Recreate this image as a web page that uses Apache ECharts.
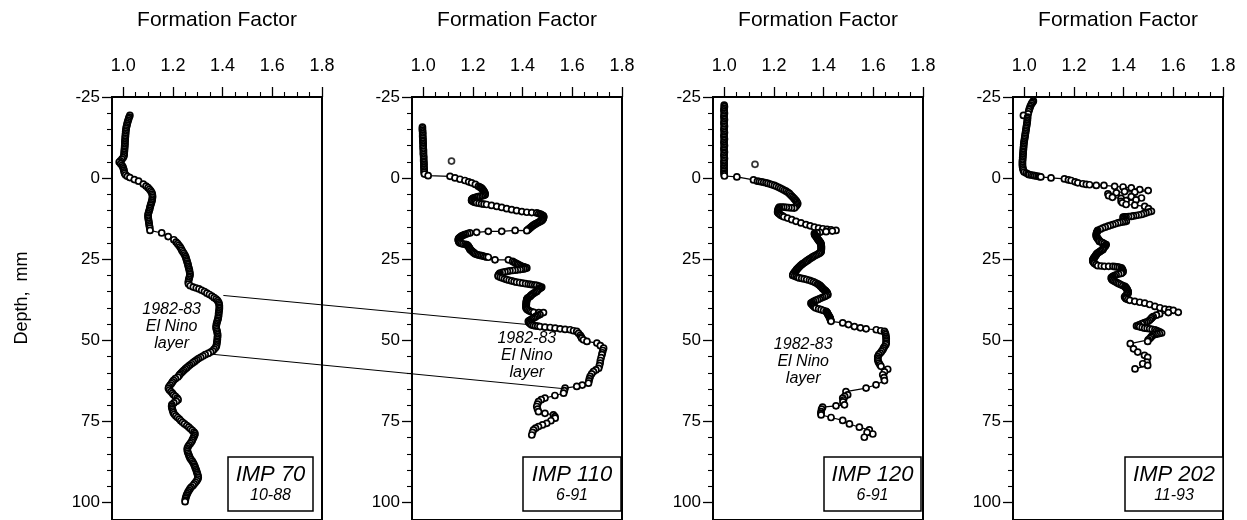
<!DOCTYPE html>
<html>
<head>
<meta charset="utf-8">
<script src="https://cdn.jsdelivr.net/npm/echarts@6/dist/echarts.min.js"></script>
<style>
  html, body { margin: 0; padding: 0; background: #fff; }
  #chart { width: 1247px; height: 520px; }
</style>
</head>
<body>
<div id="chart"></div>
<script>
// Formation factor profiles of four sediment cores: [formation factor, depth in mm]
const coreNames = ['IMP 70', 'IMP 110', 'IMP 120', 'IMP 202'];
const coreDates = ['10-88', '6-91', '6-91', '11-93'];
const axisTitle = 'Formation Factor';
const depthTitle = 'Depth,  mm';
const layerText = '1982-83\nEl Nino\nlayer';

const imp70 = [
  [1.027,-19.3],[1.024,-18.8],[1.022,-18.3],[1.020,-17.8],[1.018,-17.3],[1.016,-16.8],[1.015,-16.3],[1.013,-15.8],
  [1.012,-15.3],[1.011,-14.8],[1.010,-14.3],[1.010,-13.8],[1.009,-13.3],[1.009,-12.8],[1.008,-12.3],[1.008,-11.8],
  [1.007,-11.3],[1.007,-10.8],[1.007,-10.3],[1.006,-9.8],[1.006,-9.3],[1.005,-8.8],[1.005,-8.3],[1.004,-7.8],
  [1.004,-7.3],[1.003,-6.8],[1.000,-6.3],[0.995,-5.8],[0.989,-5.3],[0.984,-4.9],[0.990,-4.4],[0.995,-3.9],
  [0.999,-3.4],[1.001,-2.9],[1.003,-2.4],[1.004,-1.9],[1.006,-1.4],[1.010,-0.9],[1.017,-0.5],[1.027,-0.1],
  [1.045,0.5],[1.062,1.0],[1.081,1.9],
  [1.092,2.5],[1.100,3.0],[1.106,3.5],[1.111,4.0],[1.115,4.5],[1.117,5.0],[1.118,5.5],[1.118,6.0],[1.117,6.5],
  [1.116,7.0],[1.114,7.5],[1.112,8.0],[1.110,8.5],[1.108,9.0],[1.107,9.5],[1.105,10.0],[1.103,10.5],[1.101,11.0],
  [1.100,11.5],[1.100,12.0],[1.101,12.5],[1.102,13.0],[1.103,13.5],[1.104,14.0],[1.105,14.5],[1.106,15.0],
  [1.107,15.5],[1.108,16.2],
  [1.155,17.0],[1.181,18.1],[1.204,19.1],
  [1.213,19.8],[1.219,20.3],[1.224,20.8],[1.229,21.3],[1.233,21.8],[1.236,22.3],[1.240,22.8],[1.244,23.3],
  [1.248,23.8],[1.251,24.3],[1.253,24.8],[1.255,25.3],[1.257,25.8],[1.259,26.3],[1.261,26.8],[1.262,27.3],
  [1.264,27.8],[1.266,28.3],[1.267,28.8],[1.268,29.3],[1.269,29.8],[1.268,30.3],[1.266,30.8],[1.264,31.3],
  [1.263,31.8],[1.262,32.3],[1.263,32.8],[1.270,33.3],
  [1.282,33.7],[1.294,34.0],[1.305,34.3],[1.316,34.7],[1.327,35.1],[1.337,35.6],[1.347,36.0],[1.357,36.5],
  [1.366,37.0],[1.374,37.4],[1.380,37.9],[1.384,38.4],[1.386,38.9],[1.387,39.4],[1.387,39.9],[1.387,40.4],
  [1.386,40.9],[1.385,41.4],[1.384,41.9],[1.384,42.4],[1.383,42.9],[1.382,43.4],[1.380,43.9],[1.378,44.4],
  [1.376,44.9],[1.375,45.4],[1.374,45.9],[1.374,46.4],[1.376,46.9],[1.378,47.4],[1.379,47.9],[1.380,48.4],
  [1.380,48.9],[1.379,49.4],[1.379,49.9],[1.378,50.4],[1.377,50.9],[1.376,51.4],[1.375,51.9],[1.372,52.4],
  [1.366,52.9],[1.360,53.4],[1.352,53.8],[1.342,54.2],[1.330,54.6],[1.321,55.0],[1.312,55.4],[1.303,55.8],
  [1.296,56.2],[1.289,56.6],[1.282,57.0],[1.275,57.4],[1.268,57.8],[1.262,58.2],[1.256,58.6],[1.250,59.0],
  [1.244,59.4],[1.239,59.8],[1.234,60.2],[1.229,60.6],[1.225,61.0],[1.220,61.5],[1.210,62.0],[1.203,62.5],
  [1.198,63.0],[1.194,63.5],[1.189,64.0],[1.184,64.5],[1.182,65.0],[1.186,65.5],[1.192,66.0],[1.198,66.5],
  [1.203,67.0],[1.210,67.5],[1.217,68.0],[1.221,68.5],[1.214,69.0],[1.204,69.5],[1.196,70.0],[1.195,70.5],
  [1.196,71.0],[1.198,71.5],[1.200,72.0],[1.202,72.5],[1.206,73.0],[1.212,73.5],[1.219,74.0],[1.226,74.5],
  [1.232,75.0],[1.239,75.5],[1.247,76.0],[1.256,76.5],[1.264,77.0],[1.271,77.5],[1.278,78.0],[1.285,78.5],
  [1.289,79.0],[1.287,79.5],[1.284,80.0],[1.281,80.5],[1.278,81.0],[1.275,81.5],[1.270,82.0],[1.265,82.5],
  [1.261,83.0],[1.258,83.5],[1.258,84.0],[1.259,84.5],[1.261,85.0],[1.264,85.5],[1.266,86.0],[1.269,86.5],
  [1.273,87.0],[1.278,87.5],[1.282,88.0],[1.285,88.5],[1.288,89.0],[1.290,89.5],[1.293,90.0],[1.295,90.5],
  [1.297,91.0],[1.299,91.5],[1.301,92.0],[1.302,92.5],[1.300,93.0],[1.296,93.5],[1.291,94.0],[1.286,94.5],
  [1.281,95.0],[1.274,95.5],[1.269,96.0],[1.265,96.5],[1.261,97.0],[1.258,97.5],[1.255,98.0],[1.253,98.5],
  [1.251,99.0],[1.250,99.5],[1.249,100.0]
];

const imp110 = [
  [0.997,-15.7],[0.997,-15.2],[0.997,-14.7],[0.998,-14.2],[0.998,-13.7],[0.998,-13.2],[0.998,-12.7],[0.999,-12.2],
  [0.999,-11.7],[0.999,-11.2],[1.000,-10.7],[1.000,-10.2],[1.000,-9.7],[1.000,-9.2],[1.001,-8.7],[1.001,-8.2],
  [1.001,-7.7],[1.001,-7.2],[1.002,-6.7],[1.002,-6.2],[1.002,-5.7],[1.002,-5.2],[1.003,-4.7],[1.003,-4.2],
  [1.003,-3.7],[1.003,-3.2],[1.004,-2.7],[1.004,-2.2],[1.004,-1.7],[1.005,-1.2],
  [1.020,-0.7],[1.108,-0.5],
  [1.128,0.0],[1.148,0.4],[1.168,0.8],[1.183,1.2],[1.195,1.5],[1.210,2.0],[1.222,2.6],[1.228,2.8],[1.232,3.0],
  [1.236,3.25],[1.239,3.5],[1.242,3.8],[1.244,4.1],[1.246,4.35],[1.248,4.6],[1.249,4.9],[1.249,5.2],
  [1.245,5.35],[1.240,5.5],[1.234,5.6],[1.228,5.7],[1.221,5.8],[1.215,5.9],[1.208,6.05],[1.202,6.2],[1.199,6.4],
  [1.196,6.6],[1.195,6.8],[1.195,7.0],[1.199,7.2],[1.204,7.4],[1.209,7.55],[1.215,7.7],[1.225,7.85],[1.235,8.0],
  [1.245,8.1],[1.255,8.2],
  [1.275,8.5],[1.296,8.8],[1.316,9.1],[1.336,9.5],[1.356,9.8],[1.376,10.1],[1.397,10.4],[1.417,10.6],
  [1.437,10.7],[1.457,10.8],[1.465,11.0],
  [1.472,11.2],[1.477,11.4],[1.482,11.6],[1.484,11.8],[1.485,12.0],[1.484,12.25],[1.483,12.5],[1.481,12.75],
  [1.479,13.0],[1.476,13.2],[1.472,13.4],[1.467,13.6],[1.462,13.8],[1.457,14.0],[1.452,14.2],[1.448,14.4],
  [1.444,14.6],[1.440,14.8],[1.437,15.0],[1.433,15.25],[1.430,15.5],[1.426,15.7],[1.423,15.9],[1.420,16.1],
  [1.417,16.3],
  [1.370,16.2],[1.316,16.5],[1.262,16.5],[1.215,16.8],
  [1.188,17.0],[1.179,17.2],[1.170,17.4],[1.164,17.6],[1.158,17.8],[1.154,18.0],[1.150,18.2],[1.147,18.4],
  [1.144,18.6],[1.142,18.85],[1.141,19.1],[1.142,19.35],[1.143,19.6],[1.145,19.85],[1.148,20.1],[1.154,20.25],
  [1.160,20.4],[1.168,20.5],[1.175,20.6],[1.178,20.8],[1.181,21.0],[1.183,21.25],[1.185,21.5],[1.187,21.75],
  [1.188,22.0],[1.191,22.25],[1.195,22.5],[1.198,22.75],[1.202,23.0],[1.206,23.25],[1.210,23.5],[1.216,23.65],
  [1.222,23.8],[1.228,23.9],[1.235,24.0],[1.241,24.15],[1.248,24.3],[1.255,24.4],[1.262,24.5],
  [1.289,25.3],[1.343,25.3],
  [1.360,25.8],[1.366,26.05],[1.372,26.3],[1.378,26.55],[1.383,26.8],[1.389,27.0],[1.395,27.2],[1.400,27.35],
  [1.405,27.5],[1.411,27.65],[1.417,27.8],[1.411,27.95],[1.405,28.1],[1.397,28.2],[1.390,28.3],[1.380,28.4],
  [1.370,28.5],[1.360,28.6],[1.349,28.7],[1.339,28.85],[1.329,29.0],[1.319,29.2],[1.309,29.4],[1.306,29.65],
  [1.303,29.9],[1.302,30.15],[1.302,30.4],[1.310,30.65],[1.318,30.9],[1.327,31.15],[1.336,31.4],[1.346,31.6],
  [1.356,31.8],[1.366,32.0],[1.376,32.2],[1.388,32.35],[1.400,32.5],[1.412,32.65],[1.423,32.8],[1.432,32.9],
  [1.440,33.0],[1.449,33.1],[1.457,33.2],[1.467,33.45],[1.477,33.7],[1.474,33.9],[1.470,34.1],[1.465,34.35],
  [1.460,34.6],[1.458,34.85],[1.457,35.1],[1.451,35.35],[1.445,35.6],[1.440,35.85],[1.436,36.1],[1.433,36.35],
  [1.430,36.6],[1.425,36.85],[1.420,37.1],[1.418,37.35],[1.417,37.6],[1.416,37.85],[1.416,38.1],[1.415,38.35],
  [1.415,38.6],[1.415,38.85],[1.415,39.1],[1.414,39.35],[1.414,39.6],[1.414,39.9],[1.414,40.2],[1.417,40.45],
  [1.420,40.7],[1.425,40.95],[1.430,41.2],[1.437,41.35],[1.445,41.5],[1.465,41.6],[1.484,41.6],[1.470,42.2],
  [1.462,42.45],[1.455,42.7],[1.450,43.0],[1.444,43.3],[1.438,43.55],[1.432,43.8],[1.427,44.05],[1.423,44.3],
  [1.425,44.55],[1.428,44.8],[1.432,45.1],[1.437,45.4],[1.444,45.55],[1.452,45.7],[1.461,45.8],[1.470,45.9],
  [1.490,46.1],[1.511,46.2],[1.531,46.4],[1.551,46.6],[1.571,46.8],[1.591,46.9],
  [1.605,47.2],[1.618,47.4],[1.625,48.0],[1.632,48.6],[1.636,49.1],[1.638,49.5],[1.645,50.0],[1.659,50.5],
  [1.699,51.0],[1.713,51.8],[1.726,52.6],[1.723,53.3],[1.721,54.0],[1.719,54.6],[1.716,55.5],[1.713,56.4],
  [1.712,57.2],[1.709,58.0],[1.706,58.8],[1.695,59.3],[1.685,59.8],[1.678,60.5],[1.672,61.3],[1.669,62.0],
  [1.667,62.7],[1.665,63.4],[1.640,64.0],[1.618,64.4],[1.571,64.9],[1.568,65.7],[1.565,66.5],[1.530,67.2],
  [1.490,68.0],[1.475,68.5],[1.464,69.1],[1.460,69.9],[1.457,70.6],[1.460,71.4],[1.464,72.2],[1.490,72.7],
  [1.524,73.2],[1.530,73.7],[1.531,74.2],[1.514,75.0],[1.497,75.8],[1.480,76.3],[1.464,76.8],[1.452,77.3],
  [1.444,77.8],[1.440,78.6],[1.437,79.4]
];
const imp110Stray = [[1.114,-5.2]];

const imp120 = [
  [1.000,-22.5],[1.001,-22.0],[1.000,-21.5],[0.999,-21.0],[1.000,-20.5],[1.001,-20.0],[1.000,-19.5],[0.999,-19.0],
  [1.000,-18.5],[1.001,-18.0],[1.000,-17.5],[0.999,-17.0],[1.000,-16.5],[1.001,-16.0],[1.000,-15.5],[0.999,-15.0],
  [1.000,-14.5],[1.001,-14.0],[1.000,-13.5],[0.999,-13.0],[1.000,-12.5],[1.001,-12.0],[1.000,-11.5],[0.999,-11.0],
  [1.000,-10.5],[1.001,-10.0],[1.000,-9.5],[0.999,-9.0],[1.000,-8.5],[1.001,-8.0],[1.000,-7.5],[0.999,-7.0],
  [1.000,-6.5],[1.001,-6.0],[1.000,-5.5],[0.999,-5.0],[1.000,-4.5],[1.000,-4.0],[0.999,-3.5],[1.000,-3.0],
  [1.000,-2.5],[0.999,-2.0],[1.000,-1.5],[1.000,-1.0],[1.001,-0.6],
  [1.051,-0.3],[1.118,0.6],
  [1.134,1.0],[1.142,1.1],[1.150,1.2],[1.159,1.35],[1.168,1.5],[1.176,1.7],[1.185,1.9],[1.193,2.1],[1.202,2.3],
  [1.210,2.6],[1.219,2.9],[1.227,3.2],[1.235,3.5],[1.242,3.8],[1.249,4.1],[1.256,4.45],[1.262,4.8],[1.267,5.2],
  [1.272,5.6],[1.277,6.0],[1.282,6.4],[1.286,6.75],[1.290,7.1],[1.293,7.5],[1.296,7.9],[1.293,8.25],[1.290,8.6],
  [1.286,8.95],[1.282,9.3],[1.271,9.25],[1.260,9.2],[1.250,9.1],[1.240,9.0],[1.231,9.0],[1.222,9.0],[1.219,9.35],
  [1.217,9.7],[1.216,10.1],[1.215,10.5],[1.217,10.75],[1.220,11.0],[1.224,11.25],[1.228,11.5],[1.234,11.75],
  [1.240,12.0],[1.255,12.4],[1.272,12.9],[1.289,13.4],
  [1.309,13.9],[1.329,14.4],[1.346,14.8],[1.363,15.2],[1.380,15.5],[1.397,15.7],[1.414,15.9],[1.430,16.0],
  [1.450,16.2],[1.435,16.4],[1.410,16.6],
  [1.385,16.8],[1.374,17.0],[1.363,17.2],[1.364,17.45],[1.366,17.7],[1.369,18.0],[1.372,18.3],[1.374,18.55],
  [1.376,18.8],[1.378,19.05],[1.381,19.3],[1.383,19.55],[1.386,19.8],[1.388,20.05],[1.389,20.3],[1.390,20.55],
  [1.390,20.8],[1.391,21.05],[1.391,21.3],[1.391,21.55],[1.391,21.8],[1.391,22.1],[1.390,22.4],[1.390,22.65],
  [1.389,22.9],[1.385,23.15],[1.380,23.4],[1.374,23.65],[1.368,23.9],[1.362,24.15],[1.356,24.4],[1.351,24.65],
  [1.346,24.9],[1.341,25.15],[1.337,25.4],[1.332,25.65],[1.327,25.9],[1.322,26.2],[1.316,26.5],[1.312,26.75],
  [1.308,27.0],[1.304,27.3],[1.300,27.6],[1.297,27.85],[1.294,28.1],[1.291,28.35],[1.289,28.6],[1.286,28.85],
  [1.284,29.1],[1.281,29.35],[1.279,29.6],[1.277,29.85],[1.276,30.1],[1.283,30.3],[1.290,30.5],[1.296,30.7],
  [1.302,30.9],[1.312,31.05],[1.322,31.2],[1.332,31.4],[1.343,31.6],[1.351,31.85],[1.360,32.1],[1.368,32.4],
  [1.376,32.7],[1.380,32.95],[1.385,33.2],[1.388,33.45],[1.392,33.7],[1.394,33.95],[1.397,34.2],[1.401,34.45],
  [1.405,34.7],[1.408,34.9],[1.410,35.1],[1.413,35.35],[1.415,35.6],[1.416,35.85],[1.417,36.1],[1.411,36.35],
  [1.405,36.6],[1.397,36.85],[1.390,37.1],[1.383,37.35],[1.376,37.6],[1.368,37.85],[1.360,38.1],[1.354,38.4],
  [1.349,38.7],[1.352,38.95],[1.355,39.2],[1.358,39.45],[1.362,39.7],[1.365,39.95],[1.369,40.2],[1.380,40.45],
  [1.390,40.7],[1.400,40.95],[1.410,41.2],[1.413,41.45],[1.415,41.7],[1.417,42.0],[1.419,42.3],[1.421,42.55],
  [1.423,42.8],[1.425,43.05],[1.426,43.3],[1.427,43.55],[1.428,43.8],[1.429,44.05],[1.430,44.3],
  [1.477,44.8],[1.500,45.3],[1.524,45.9],[1.548,46.3],[1.571,46.6],[1.612,46.9],
  [1.630,47.2],[1.645,47.4],[1.648,47.9],[1.650,48.4],[1.651,49.0],[1.652,49.5],[1.652,50.0],[1.652,50.5],
  [1.652,51.0],[1.650,51.5],[1.645,52.1],[1.641,52.6],[1.638,53.1],[1.633,53.6],[1.628,54.1],[1.622,54.6],
  [1.618,55.2],[1.618,55.7],[1.618,56.2],[1.620,56.7],[1.623,57.2],[1.627,57.7],[1.631,58.2],[1.658,59.1],
  [1.645,59.9],[1.638,60.8],[1.643,61.7],[1.645,62.6],[1.611,63.9],[1.571,64.9],[1.490,66.0],[1.497,67.0],
  [1.485,67.5],[1.477,68.0],[1.480,68.6],[1.478,69.2],[1.484,70.1],[1.450,70.4],[1.396,70.8],[1.392,71.4],
  [1.390,72.2],[1.389,72.7],[1.390,73.2],[1.430,74.0],[1.477,74.9],[1.504,76.0],[1.544,77.0],[1.584,77.8],
  [1.598,79.1],[1.575,78.6],[1.564,80.1]
];
const imp120Stray = [[1.124,-4.2]];

const imp202 = [
  [1.037,-23.8],[1.034,-23.4],[1.030,-23.0],[1.027,-22.5],[1.024,-22.0],[1.022,-21.5],[1.020,-21.1],[1.018,-20.5],
  [1.016,-19.8],[0.997,-19.3],[1.014,-18.8],[1.013,-18.3],[1.013,-17.8],[1.012,-17.3],[1.011,-16.8],[1.010,-16.3],
  [1.009,-15.8],[1.008,-15.3],[1.007,-14.8],[1.006,-14.3],[1.005,-13.8],[1.004,-13.3],[1.003,-12.8],[1.002,-12.3],
  [1.001,-11.8],[1.000,-11.3],[0.999,-10.8],[0.998,-10.3],[0.998,-9.8],[0.997,-9.3],[0.997,-8.8],[0.996,-8.3],
  [0.996,-7.8],[0.995,-7.3],[0.995,-6.8],[0.994,-6.3],[0.994,-5.8],[0.993,-5.3],[0.993,-4.8],[0.993,-4.3],
  [0.993,-3.8],[0.994,-3.3],[0.995,-2.8],[0.997,-2.3],[1.000,-1.8],[1.008,-1.5],[1.015,-1.2],[1.020,-1.0],
  [1.028,-0.9],[1.035,-0.8],[1.042,-0.7],[1.049,-0.6],[1.056,-0.5],[1.062,-0.4],[1.067,-0.3],
  [1.108,0.0],[1.162,0.3],[1.178,0.6],[1.189,0.8],[1.205,1.2],[1.216,1.5],[1.236,1.8],[1.250,2.0],[1.263,2.1],
  [1.290,2.3],[1.321,2.3],[1.364,2.6],[1.398,2.8],[1.431,3.1],[1.465,3.6],[1.499,3.9],
  [1.445,4.4],[1.404,4.2],[1.371,4.6],[1.337,4.9],[1.340,5.5],[1.355,6.0],[1.390,6.3],[1.431,5.8],[1.472,6.2],
  [1.450,6.8],[1.410,7.0],[1.390,7.2],[1.395,7.7],[1.410,8.2],[1.445,8.4],[1.485,8.8],[1.500,9.5],
  [1.512,10.3],[1.501,10.55],[1.490,10.8],[1.481,11.05],[1.472,11.3],[1.461,11.45],[1.450,11.6],[1.440,11.75],
  [1.431,11.9],[1.420,11.95],[1.410,12.0],[1.404,12.05],[1.398,12.1],[1.399,12.45],[1.400,12.8],[1.405,13.1],
  [1.411,13.4],[1.403,13.5],[1.395,13.6],[1.386,13.75],[1.377,13.9],[1.367,14.15],[1.357,14.4],[1.347,14.65],
  [1.337,14.9],[1.326,15.2],[1.316,15.5],[1.306,15.85],[1.296,16.2],[1.294,16.5],[1.292,16.8],[1.291,17.1],
  [1.290,17.4],[1.290,17.7],[1.290,18.0],[1.292,18.3],[1.295,18.6],[1.297,18.85],[1.300,19.1],[1.302,19.35],
  [1.303,19.6],[1.309,19.8],[1.315,20.0],[1.322,20.3],[1.330,20.6],[1.327,20.9],[1.325,21.2],[1.321,21.45],
  [1.318,21.7],[1.317,21.95],[1.316,22.2],[1.310,22.45],[1.305,22.7],[1.300,22.95],[1.295,23.2],[1.292,23.45],
  [1.290,23.7],[1.287,24.0],[1.285,24.3],[1.282,24.55],[1.280,24.8],[1.278,25.05],[1.276,25.3],[1.276,25.55],
  [1.277,25.8],[1.280,26.1],[1.283,26.4],[1.289,26.75],[1.296,27.1],[1.310,27.2],[1.323,27.3],[1.340,27.3],
  [1.357,27.3],[1.366,27.4],[1.375,27.5],[1.383,27.65],[1.391,27.8],[1.394,28.1],[1.396,28.4],[1.397,28.7],
  [1.398,29.0],[1.394,29.25],[1.390,29.5],[1.380,29.7],[1.370,29.9],[1.363,30.15],[1.357,30.4],[1.353,30.65],
  [1.350,30.9],[1.352,31.2],[1.355,31.5],[1.360,31.75],[1.365,32.0],[1.371,32.25],[1.377,32.5],[1.383,32.75],
  [1.390,33.0],[1.397,33.25],[1.405,33.5],[1.408,33.75],[1.411,34.0],[1.413,34.3],[1.415,34.6],[1.417,34.85],
  [1.418,35.1],[1.418,35.35],[1.418,35.6],[1.415,35.85],[1.412,36.1],[1.408,36.4],[1.404,36.7],[1.407,37.0],
  [1.410,37.3],[1.417,37.55],[1.425,37.8],
  [1.445,38.1],[1.465,38.4],[1.485,38.7],[1.505,39.1],[1.526,39.7],[1.546,40.1],[1.566,40.5],
  [1.583,40.7],[1.600,40.9],[1.620,41.5],[1.580,41.6],
  [1.545,42.0],[1.532,42.4],[1.519,42.8],[1.514,43.15],[1.510,43.5],[1.505,43.9],[1.499,44.3],[1.492,44.5],
  [1.485,44.7],[1.478,44.9],[1.472,45.1],[1.462,45.4],[1.452,45.7],[1.458,45.85],[1.465,46.0],[1.475,46.2],
  [1.485,46.4],[1.495,46.5],[1.505,46.6],[1.515,46.75],[1.526,46.9],[1.533,47.15],[1.540,47.4],[1.547,47.65],
  [1.553,47.9],[1.544,48.05],[1.535,48.2],[1.527,48.35],[1.519,48.5],[1.514,48.85],[1.510,49.2],[1.505,49.6],
  [1.499,50.0],[1.497,50.5],
  [1.427,51.2],[1.440,52.8],[1.457,53.8],[1.484,54.8],[1.497,55.4],[1.494,56.9],[1.477,57.4],[1.497,57.9],
  [1.446,59.0]
];

const profiles = [imp70, imp110, imp120, imp202];
const strays = [[], imp110Stray, imp120Stray, []];

// Tie lines between the El Nino layer in IMP 70 and IMP 110: [ff, depth] in each core
const tieTop = [[1.403, 36.3], [1.423, 45.3]];
const tieBottom = [[1.363, 54.5], [1.565, 65.1]];
// Where the layer caption sits in cores 70, 110 and 120: [ff, depth]
const layerAnchors = [[1.195, 45.8], [1.417, 54.8], [1.318, 56.6]];

// ---- layout ----
const FONT = '"Liberation Sans", Arial, Helvetica, sans-serif';
const PANEL_LEFT = [112, 412, 713, 1013];
const TOP = 97, W = 210, H = 424;
const X_MIN = 0.955, X_MAX = 1.8;
const PX_PER_MM = 3.245;
const Y_MIN = -25, Y_MAX = Y_MIN + H / PX_PER_MM;
const PX_PER_FF = W / (X_MAX - X_MIN);
const TICK_SHIFT = (1.0 - X_MIN) * PX_PER_FF;
const BOX = [{dx: 116, w: 85}, {dx: 111, w: 98}, {dx: 111, w: 97}, {dx: 112, w: 98}];

const grid = [], xAxis = [], yAxis = [], series = [];
const markStyle = {color: '#fff', borderColor: '#000', borderWidth: 1.7};

PANEL_LEFT.forEach((L, i) => {
  // data grid with the frame
  grid.push({left: L, top: TOP, width: W, height: H, show: true,
             borderColor: '#000', borderWidth: 2, backgroundColor: 'transparent', containLabel: false});
  // scale grid that carries the ticks and labels
  grid.push({left: L + TICK_SHIFT, top: TOP, width: 0.8 * PX_PER_FF, height: 125 * PX_PER_MM,
             show: false, containLabel: false});
  const g = 2 * i;
  xAxis.push({gridIndex: g, type: 'value', min: X_MIN, max: X_MAX, show: false});
  yAxis.push({gridIndex: g, type: 'value', min: Y_MIN, max: Y_MAX, inverse: true, show: false});
  xAxis.push({
    gridIndex: g + 1, type: 'value', position: 'top', min: 1.0, max: 1.8, interval: 0.2,
    axisLine: {show: false, onZero: false}, splitLine: {show: false},
    axisTick: {show: true, length: 10, lineStyle: {color: '#000', width: 1.3}},
    minorTick: {show: true, splitNumber: 4, length: 5, lineStyle: {color: '#000', width: 1.1}},
    axisLabel: {show: true, margin: 22, color: '#000', fontSize: 18, fontFamily: FONT,
                formatter: v => v.toFixed(1)}
  });
  yAxis.push({
    gridIndex: g + 1, type: 'value', position: 'left', min: -25, max: 100, interval: 25, inverse: true,
    offset: TICK_SHIFT,
    axisLine: {show: false, onZero: false}, splitLine: {show: false},
    axisTick: {show: true, length: 10, lineStyle: {color: '#000', width: 1.3}},
    minorTick: {show: true, splitNumber: 5, length: 5, lineStyle: {color: '#000', width: 1.1}},
    axisLabel: {show: true, margin: 12, color: '#000', fontSize: 17, fontFamily: FONT}
  });
  series.push({
    name: coreNames[i], type: 'line', xAxisIndex: g, yAxisIndex: g, data: profiles[i],
    symbol: 'circle', symbolSize: 6, showSymbol: true, showAllSymbol: true, clip: false,
    lineStyle: {color: '#000', width: 1.2}, itemStyle: markStyle, animation: false, z: 3
  });
  if (strays[i].length) {
    series.push({
      name: coreNames[i] + ' (isolated)', type: 'scatter', xAxisIndex: g, yAxisIndex: g, data: strays[i],
      symbol: 'circle', symbolSize: 6, itemStyle: markStyle, animation: false, z: 3
    });
  }
});

const chart = echarts.init(document.getElementById('chart'), null, {renderer: 'canvas'});
chart.setOption({
  backgroundColor: '#fff', animation: false,
  grid, xAxis, yAxis, series
});

// Annotations: titles, core labels, layer captions and tie lines
const graphic = [];
PANEL_LEFT.forEach((L, i) => {
  graphic.push({type: 'text', x: L + W / 2, y: 20,
    style: {text: axisTitle, font: '21px ' + FONT, fill: '#000', align: 'center', verticalAlign: 'middle'}});
  const bx = L + BOX[i].dx, by = 457, bw = BOX[i].w, bh = 54;
  graphic.push({type: 'rect', shape: {x: bx, y: by, width: bw, height: bh},
    style: {fill: '#fff', stroke: '#000', lineWidth: 1.5}, z: 10});
  graphic.push({type: 'text', x: bx + bw / 2, y: by + 18, z: 11,
    style: {text: coreNames[i], font: 'italic 22px ' + FONT, fill: '#000', align: 'center', verticalAlign: 'middle'}});
  graphic.push({type: 'text', x: bx + bw / 2, y: by + 39, z: 11,
    style: {text: coreDates[i], font: 'italic 16px ' + FONT, fill: '#000', align: 'center', verticalAlign: 'middle'}});
});
graphic.push({type: 'text', x: 22, y: 298, rotation: Math.PI / 2,
  style: {text: depthTitle, font: '18px ' + FONT, fill: '#000', align: 'center', verticalAlign: 'middle'}});

layerAnchors.forEach((a, i) => {
  const p = chart.convertToPixel({gridIndex: 2 * i}, a);
  graphic.push({type: 'text', x: p[0], y: p[1], z: 12,
    style: {text: layerText, font: 'italic 16px ' + FONT, fill: '#000', align: 'center',
            verticalAlign: 'middle', lineHeight: 17}});
});
[tieTop, tieBottom].forEach(t => {
  const a = chart.convertToPixel({gridIndex: 0}, t[0]);
  const b = chart.convertToPixel({gridIndex: 2}, t[1]);
  graphic.push({type: 'line', shape: {x1: a[0], y1: a[1], x2: b[0], y2: b[1]},
    style: {stroke: '#000', lineWidth: 1}, z: 12});
});
chart.setOption({graphic});
</script>
</body>
</html>
